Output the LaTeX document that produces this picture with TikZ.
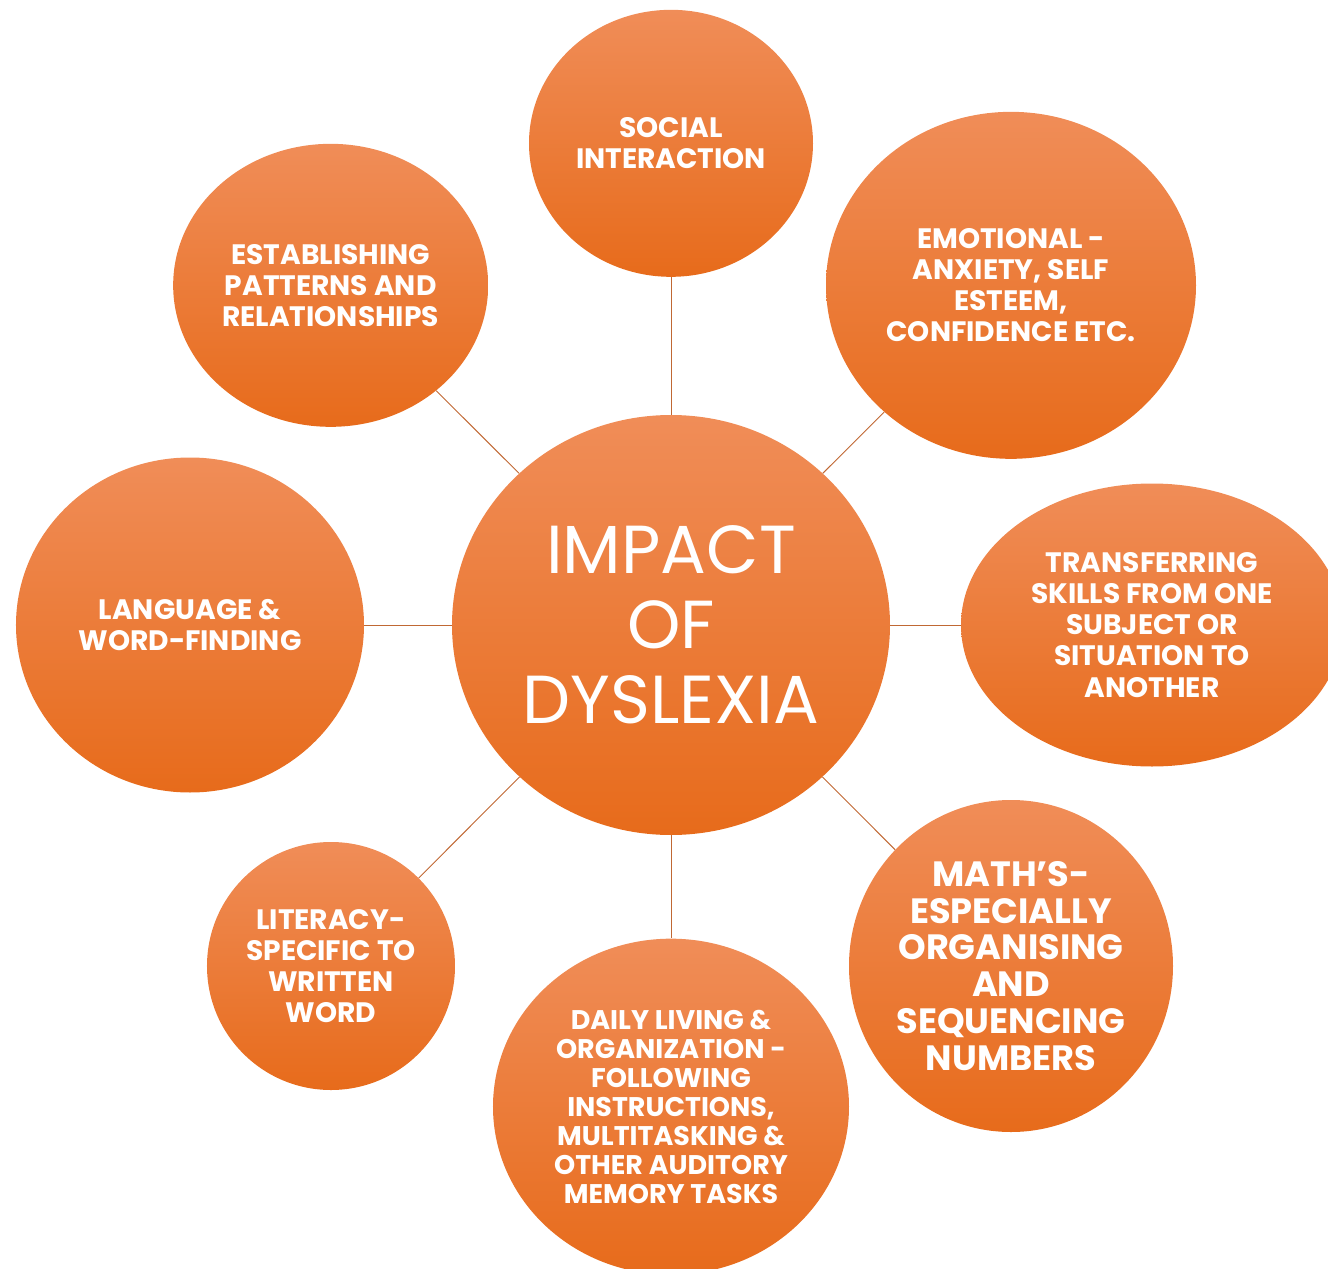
\documentclass[tikz,border=0pt]{standalone}
\usepackage{fontspec}
\setmainfont{Poppins}
\usetikzlibrary{shapes.geometric}

\definecolor{bubbletop}{RGB}{240,141,88}
\definecolor{bubblemid}{RGB}{243,127,46}
\definecolor{bubblebot}{RGB}{231,107,27}
\definecolor{spoke}{RGB}{192,104,52}

\begin{document}
\begin{tikzpicture}[
    bubble/.style={ellipse, inner sep=0pt, top color=bubbletop,
      middle color=bubblemid, bottom color=bubblebot, text=white,
      align=center, font=\bfseries\fontsize{24}{26.5}\selectfont},
    spokeline/.style={draw=spoke, line width=0.8pt}
  ]
  \clip (-20.13,-19.29) rectangle (19.71,18.75);

  % hub
  \node[bubble, minimum width=13.14cm, minimum height=12.6cm,
    font=\fontsize{58}{64}\selectfont] (hub) at (0,0)
    {IMPACT\\OF\\DYSLEXIA};

  % outer ring, clockwise from the top
  \node[bubble, minimum width=8.52cm, minimum height=8.01cm] (social) at (0,14.45)
    {SOCIAL\\INTERACTION};
  \node[bubble, minimum width=11.1cm, minimum height=10.41cm] (emotion) at (10.2,10.19)
    {EMOTIONAL -\\ANXIETY, SELF\\ESTEEM,\\CONFIDENCE ETC.};
  \node[bubble, minimum width=11.46cm, minimum height=8.49cm] (transfer) at (14.43,0)
    {TRANSFERRING\\SKILLS FROM ONE\\SUBJECT OR\\SITUATION TO\\ANOTHER};
  \node[bubble, minimum width=9.72cm, minimum height=9.96cm,
    font=\bfseries\fontsize{30}{31.5}\selectfont] (maths) at (10.2,-10.23)
    {MATH’S-\\ESPECIALLY\\ORGANISING\\AND\\SEQUENCING\\NUMBERS};
  \node[bubble, minimum width=10.68cm, minimum height=10.08cm,
    font=\bfseries\fontsize{23}{24.7}\selectfont] (daily) at (0,-14.45)
    {DAILY LIVING \&\\ORGANIZATION -\\FOLLOWING\\INSTRUCTIONS,\\MULTITASKING \&\\OTHER AUDITORY\\MEMORY TASKS};
  \node[bubble, minimum width=7.44cm, minimum height=7.44cm] (literacy) at (-10.2,-10.23)
    {LITERACY-\\SPECIFIC TO\\WRITTEN\\WORD};
  \node[bubble, minimum width=10.44cm, minimum height=10.05cm] (language) at (-14.43,0)
    {LANGUAGE \&\\WORD-FINDING};
  \node[bubble, minimum width=9.45cm, minimum height=8.49cm] (patterns) at (-10.21,10.19)
    {ESTABLISHING\\PATTERNS AND\\RELATIONSHIPS};

  % spokes
  \foreach \n in {social,emotion,transfer,maths,daily,literacy,language,patterns}
    \draw[spokeline] (hub) -- (\n);
\end{tikzpicture}
\end{document}
